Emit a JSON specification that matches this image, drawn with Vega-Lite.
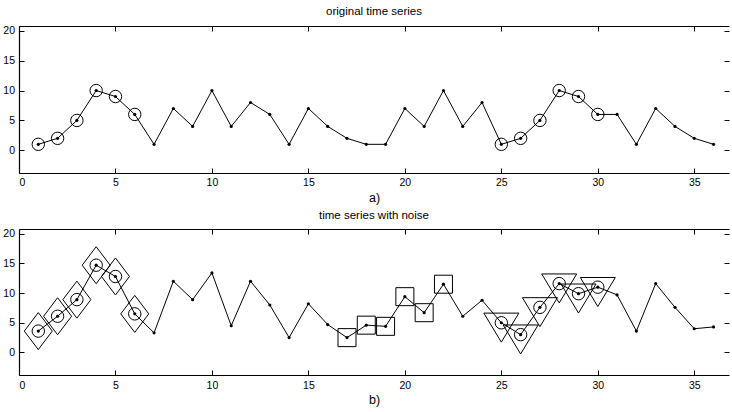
{
  "$schema": "https://vega.github.io/schema/vega-lite/v6.json",
  "padding": {"left": 2, "top": 6, "right": 0, "bottom": 4},
  "spacing": 56,
  "bounds": "flush",
  "config": {
    "view": {"stroke": null},
    "font": "Liberation Sans",
    "axis": {
      "grid": false,
      "domainColor": "black",
      "domainWidth": 1.2,
      "tickColor": "black",
      "tickWidth": 1,
      "tickSize": -5,
      "labelColor": "black",
      "labelFontSize": 10.5,
      "labelFont": "Liberation Sans",
      "titleFont": "Liberation Sans",
      "titleFontWeight": "normal",
      "titleColor": "black",
      "titleFontSize": 12.5
    },
    "title": {"font": "Liberation Sans", "fontWeight": "normal", "fontSize": 11.5, "color": "black", "anchor": "middle"}
  },
  "datasets": {
    "orig": [
      {"t": 1, "v": 1, "c": 1}, {"t": 2, "v": 2, "c": 1}, {"t": 3, "v": 5, "c": 1}, {"t": 4, "v": 10, "c": 1},
      {"t": 5, "v": 9, "c": 1}, {"t": 6, "v": 6, "c": 1}, {"t": 7, "v": 1, "c": 0}, {"t": 8, "v": 7, "c": 0},
      {"t": 9, "v": 4, "c": 0}, {"t": 10, "v": 10, "c": 0}, {"t": 11, "v": 4, "c": 0}, {"t": 12, "v": 8, "c": 0},
      {"t": 13, "v": 6, "c": 0}, {"t": 14, "v": 1, "c": 0}, {"t": 15, "v": 7, "c": 0}, {"t": 16, "v": 4, "c": 0},
      {"t": 17, "v": 2, "c": 0}, {"t": 18, "v": 1, "c": 0}, {"t": 19, "v": 1, "c": 0}, {"t": 20, "v": 7, "c": 0},
      {"t": 21, "v": 4, "c": 0}, {"t": 22, "v": 10, "c": 0}, {"t": 23, "v": 4, "c": 0}, {"t": 24, "v": 8, "c": 0},
      {"t": 25, "v": 1, "c": 1}, {"t": 26, "v": 2, "c": 1}, {"t": 27, "v": 5, "c": 1}, {"t": 28, "v": 10, "c": 1},
      {"t": 29, "v": 9, "c": 1}, {"t": 30, "v": 6, "c": 1}, {"t": 31, "v": 6, "c": 0}, {"t": 32, "v": 1, "c": 0},
      {"t": 33, "v": 7, "c": 0}, {"t": 34, "v": 4, "c": 0}, {"t": 35, "v": 2, "c": 0}, {"t": 36, "v": 1, "c": 0}
    ],
    "noisy": [
      {"t": 1, "v": 3.6, "c": 1, "s": "d"}, {"t": 2, "v": 6.1, "c": 1, "s": "d"}, {"t": 3, "v": 8.9, "c": 1, "s": "d"},
      {"t": 4, "v": 14.7, "c": 1, "s": "d"}, {"t": 5, "v": 12.8, "c": 1, "s": "d"}, {"t": 6, "v": 6.5, "c": 1, "s": "d"},
      {"t": 7, "v": 3.3, "c": 0, "s": "n"}, {"t": 8, "v": 12.0, "c": 0, "s": "n"}, {"t": 9, "v": 8.9, "c": 0, "s": "n"},
      {"t": 10, "v": 13.4, "c": 0, "s": "n"}, {"t": 11, "v": 4.5, "c": 0, "s": "n"}, {"t": 12, "v": 12.0, "c": 0, "s": "n"},
      {"t": 13, "v": 8.0, "c": 0, "s": "n"}, {"t": 14, "v": 2.5, "c": 0, "s": "n"}, {"t": 15, "v": 8.2, "c": 0, "s": "n"},
      {"t": 16, "v": 4.7, "c": 0, "s": "n"}, {"t": 17, "v": 2.5, "c": 0, "s": "s"}, {"t": 18, "v": 4.6, "c": 0, "s": "s"},
      {"t": 19, "v": 4.4, "c": 0, "s": "s"}, {"t": 20, "v": 9.4, "c": 0, "s": "s"}, {"t": 21, "v": 6.7, "c": 0, "s": "s"},
      {"t": 22, "v": 11.5, "c": 0, "s": "s"}, {"t": 23, "v": 6.1, "c": 0, "s": "n"}, {"t": 24, "v": 8.8, "c": 0, "s": "n"},
      {"t": 25, "v": 5.0, "c": 1, "s": "v"}, {"t": 26, "v": 3.0, "c": 1, "s": "v"}, {"t": 27, "v": 7.6, "c": 1, "s": "v"},
      {"t": 28, "v": 11.6, "c": 1, "s": "v"}, {"t": 29, "v": 9.9, "c": 1, "s": "v"}, {"t": 30, "v": 11.0, "c": 1, "s": "v"},
      {"t": 31, "v": 9.7, "c": 0, "s": "n"}, {"t": 32, "v": 3.6, "c": 0, "s": "n"}, {"t": 33, "v": 11.6, "c": 0, "s": "n"},
      {"t": 34, "v": 7.6, "c": 0, "s": "n"}, {"t": 35, "v": 4.0, "c": 0, "s": "n"}, {"t": 36, "v": 4.3, "c": 0, "s": "n"}
    ]
  },
  "vconcat": [
    {
      "width": 710,
      "height": 147,
      "title": {"text": "original time series", "offset": 8},
      "data": {"name": "orig"},
      "layer": [
        {
          "mark": {"type": "line", "color": "black", "strokeWidth": 1},
          "encoding": {
            "x": {"field": "t", "type": "quantitative", "scale": {"domain": [0, 36.8], "nice": false, "zero": false},
                  "axis": {"orient": "bottom", "values": [0, 5, 10, 15, 20, 25, 30, 35], "title": "a)", "labelPadding": 9.5, "titlePadding": 3}},
            "y": {"field": "v", "type": "quantitative", "scale": {"domain": [-3.8, 20.8], "nice": false, "zero": false},
                  "axis": {"orient": "left", "values": [0, 5, 10, 15, 20], "title": null, "labelPadding": 9.5}}
          }
        },
        {
          "mark": {"type": "point", "filled": true, "color": "black", "size": 10, "opacity": 1},
          "encoding": {
            "x": {"field": "t", "type": "quantitative", "axis": {"orient": "top", "values": [0, 5, 10, 15, 20, 25, 30, 35], "labels": false, "title": null}},
            "y": {"field": "v", "type": "quantitative", "axis": {"orient": "right", "values": [0, 5, 10, 15, 20], "labels": false, "title": null, "domain": false}}
          }
        },
        {
          "transform": [{"filter": {"field": "c", "equal": 1}}],
          "mark": {"type": "point", "shape": "circle", "filled": false, "color": "black", "size": 154, "strokeWidth": 1, "opacity": 1},
          "encoding": {
            "x": {"field": "t", "type": "quantitative", "axis": null},
            "y": {"field": "v", "type": "quantitative", "axis": null}
          }
        }
      ],
      "resolve": {"axis": {"x": "independent", "y": "independent"}}
    },
    {
      "width": 710,
      "height": 146,
      "title": {"text": "time series with noise", "offset": 7},
      "data": {"name": "noisy"},
      "layer": [
        {
          "mark": {"type": "line", "color": "black", "strokeWidth": 1},
          "encoding": {
            "x": {"field": "t", "type": "quantitative", "scale": {"domain": [0, 36.8], "nice": false, "zero": false},
                  "axis": {"orient": "bottom", "values": [0, 5, 10, 15, 20, 25, 30, 35], "title": "b)", "labelPadding": 10, "titlePadding": 3}},
            "y": {"field": "v", "type": "quantitative", "scale": {"domain": [-3.8, 20.8], "nice": false, "zero": false},
                  "axis": {"orient": "left", "values": [0, 5, 10, 15, 20], "title": null, "labelPadding": 9.5}}
          }
        },
        {
          "mark": {"type": "point", "filled": true, "color": "black", "size": 10, "opacity": 1},
          "encoding": {
            "x": {"field": "t", "type": "quantitative", "axis": {"orient": "top", "values": [0, 5, 10, 15, 20, 25, 30, 35], "labels": false, "title": null}},
            "y": {"field": "v", "type": "quantitative", "axis": {"orient": "right", "values": [0, 5, 10, 15, 20], "labels": false, "title": null, "domain": false}}
          }
        },
        {
          "transform": [{"filter": {"field": "c", "equal": 1}}],
          "mark": {"type": "point", "shape": "circle", "filled": false, "color": "black", "size": 154, "strokeWidth": 1, "opacity": 1},
          "encoding": {
            "x": {"field": "t", "type": "quantitative", "axis": null},
            "y": {"field": "v", "type": "quantitative", "axis": null}
          }
        },
        {
          "transform": [{"filter": {"field": "s", "equal": "d"}}],
          "mark": {"type": "point", "shape": "M0,-1L0.757,0L0,1L-0.757,0Z", "filled": false, "color": "black", "size": 1369, "strokeWidth": 1, "opacity": 1},
          "encoding": {
            "x": {"field": "t", "type": "quantitative", "axis": null},
            "y": {"field": "v", "type": "quantitative", "axis": null}
          }
        },
        {
          "transform": [{"filter": {"field": "s", "equal": "s"}}],
          "mark": {"type": "point", "shape": "square", "filled": false, "color": "black", "size": 324, "strokeWidth": 1, "opacity": 1},
          "encoding": {
            "x": {"field": "t", "type": "quantitative", "axis": null},
            "y": {"field": "v", "type": "quantitative", "axis": null}
          }
        },
        {
          "transform": [{"filter": {"field": "s", "equal": "v"}}],
          "mark": {"type": "point", "shape": "M-1,-0.552L1,-0.552L0,1.105Z", "filled": false, "color": "black", "size": 1225, "strokeWidth": 1, "opacity": 1},
          "encoding": {
            "x": {"field": "t", "type": "quantitative", "axis": null},
            "y": {"field": "v", "type": "quantitative", "axis": null}
          }
        }
      ],
      "resolve": {"axis": {"x": "independent", "y": "independent"}}
    }
  ]
}
